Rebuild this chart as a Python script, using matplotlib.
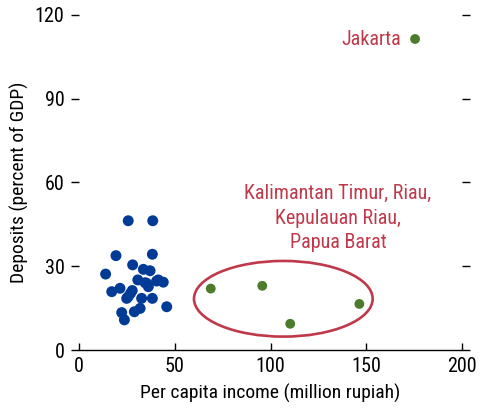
import matplotlib
matplotlib.use("Agg")
import matplotlib.pyplot as plt
from matplotlib.patches import Ellipse
from matplotlib import font_manager

# Provinces: per capita income (million rupiah) vs deposits (percent of GDP)
other_income = [25.7, 38.5, 19.3, 38.3, 13.9, 28.0, 33.6, 37.1, 30.7, 34.5,
                41.4, 44.0, 17.1, 21.4, 25.7, 27.8, 24.9, 36.2, 32.7, 38.3,
                45.8, 31.9, 28.9, 22.3, 23.7, 26.9, 35.3, 40.5]
other_deposits = [46.3, 46.3, 33.8, 34.3, 27.2, 30.5, 28.9, 28.4, 25.1, 24.1,
                  25.1, 24.3, 20.9, 22.1, 19.1, 21.3, 18.5, 22.7, 18.5, 18.5,
                  15.5, 14.9, 13.7, 13.4, 10.8, 20.3, 23.9, 24.7]

rich_names = ["Kalimantan Timur", "Riau", "Kepulauan Riau", "Papua Barat", "Jakarta"]
rich_income = [68.8, 95.7, 110.3, 146.4, 175.5]
rich_deposits = [22.0, 23.0, 9.4, 16.5, 111.4]

x_ticks = [0, 50, 100, 150, 200]
y_ticks = [0, 30, 60, 90, 120]

installed = {f.name for f in font_manager.fontManager.ttflist}
candidates = ["Liberation Sans Narrow", "Roboto Condensed", "Open Sans Condensed",
              "Arial Narrow", "Nimbus Sans Narrow", "Liberation Sans", "Roboto"]
family = next((c for c in candidates if c in installed), "DejaVu Sans")
plt.rcParams["font.family"] = [family, "DejaVu Sans"]

BLUE = "#023B95"
GREEN = "#4B7B2B"
RED = "#C0394B"
FS = 14.5

fig = plt.figure(figsize=(4.8, 4.15), dpi=100)
ax = fig.add_axes([0.1646, 0.1566, 0.7979, 0.8073])

ax.scatter(other_income, other_deposits, s=62, color=BLUE, edgecolors="none", zorder=3)
ax.scatter(rich_income, rich_deposits, s=50, color=GREEN, edgecolors="none", zorder=3)

ax.add_patch(Ellipse((106.7, 18.35), 93.3, 27.1, fill=False, edgecolor=RED,
                     linewidth=1.9, zorder=2))

ax.text(rich_income[-1] - 7.3, 109.1, rich_names[-1], color=RED,
        ha="right", va="baseline", fontsize=FS)

# Group label for the four high-income provinces, one line at a time
label_lines = ["{}, {},".format(*rich_names[:2]), rich_names[2] + ",", rich_names[3]]
for line, y in zip(label_lines, [54.1, 45.3, 36.4]):
    ax.text(135.2, y, line, color=RED, ha="center", va="baseline", fontsize=FS)

ax.set_xlim(0, 200)
ax.set_ylim(0, 120)
ax.set_xticks(x_ticks)
ax.set_yticks(y_ticks)
ax.tick_params(axis="x", direction="in", length=5, width=1.0, labelsize=FS, pad=5)
ax.tick_params(axis="y", direction="out", length=5.5, width=1.0, labelsize=FS,
               right=True, pad=5)
for side in ("left", "right", "top"):
    ax.spines[side].set_visible(False)
ax.spines["bottom"].set_linewidth(1.0)

ax.set_xlabel("Per capita income (million rupiah)", fontsize=14, labelpad=6)
ax.set_ylabel("Deposits (percent of GDP)", fontsize=14, labelpad=4)

fig.savefig("out.png", dpi=100)
